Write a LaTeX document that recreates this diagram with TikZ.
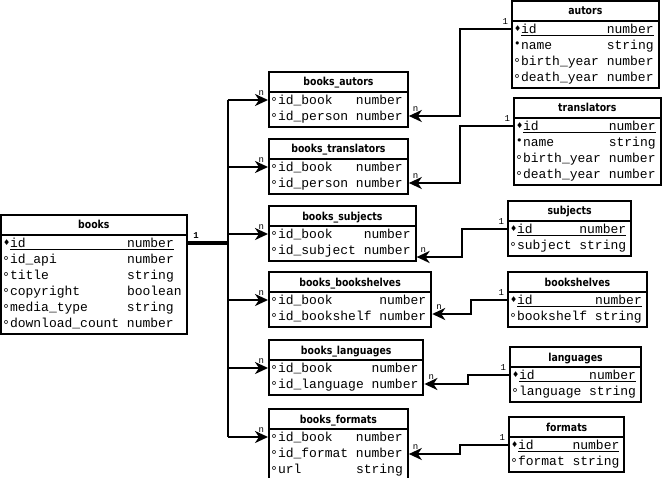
\documentclass[tikz,border=0pt]{standalone}
\usepackage{fontspec}
\setmonofont{Liberation Mono}
\newfontfamily\titlefont[FakeStretch=0.85]{DejaVu Sans}
\newfontfamily\symfont{DejaVu Sans}
\usepackage{tikz}
\usetikzlibrary{arrows.meta}
\usetikzlibrary{positioning}
\usetikzlibrary{shapes.multipart}
\tikzstyle{entity} = [draw, line width=2bp, rectangle split, rectangle split parts=2, inner xsep=2bp, inner ysep=0.5bp, anchor=north west, font=\fontsize{13bp}{16bp}\selectfont\ttfamily]
\tikzstyle{link} = [line width=2.2bp, -{Stealth[length=13bp,width=12bp,inset=4bp]}]
\tikzstyle{mult} = [inner sep=0, font=\fontsize{9bp}{9bp}\selectfont\ttfamily]

\newlength\cw \setlength\cw{7.8bp}
\newcommand\ttl[1]{{\titlefont\bfseries\fontsize{11bp}{13bp}\selectfont\rule[-4.5bp]{0pt}{17bp}#1}}
\newcommand\symkey{\makebox[7bp][l]{\raisebox{2.5bp}{\symfont\fontsize{8bp}{8bp}\selectfont ♦}}}
\newcommand\symreq{\makebox[7bp][l]{\raisebox{2bp}{\symfont\fontsize{11bp}{11bp}\selectfont •}}}
\newcommand\symopt{\makebox[7bp][l]{\raisebox{-2bp}{\symfont\fontsize{12bp}{12bp}\selectfont °}}}
\newcommand\keyrow[3]{\symkey\underline{\makebox[#1\cw][l]{#2}#3}}
\newcommand\reqrow[3]{\symreq\makebox[#1\cw][l]{#2}#3}
\newcommand\optrow[3]{\symopt\makebox[#1\cw][l]{#2}#3}

\begin{document}
\begin{tikzpicture}[x=1bp,y=-1bp]
\useasboundingbox (0,0) rectangle (662,478);

% main table
\node[entity] (books) at (0,214) {\ttl{books}
  \nodepart{two}\begin{tabular}{@{}l@{\hspace{3bp}}}
  \keyrow{15}{id}{number}\\
  \optrow{15}{id\_api}{number}\\
  \optrow{15}{title}{string}\\
  \optrow{15}{copyright}{boolean}\\
  \optrow{15}{media\_type}{string}\\
  \optrow{15}{download\_count}{number}
  \end{tabular}};

% link tables
\node[entity] (bautors) at (268,71) {\ttl{books\_autors}
  \nodepart{two}\begin{tabular}{@{}l@{\hspace{3bp}}}
  \optrow{10}{id\_book}{number}\\
  \optrow{10}{id\_person}{number}
  \end{tabular}};
\node[entity] (btrans) [below=10bp of bautors.south west, anchor=north west] {\ttl{books\_translators}
  \nodepart{two}\begin{tabular}{@{}l@{\hspace{3bp}}}
  \optrow{10}{id\_book}{number}\\
  \optrow{10}{id\_person}{number}
  \end{tabular}};
\node[entity] (bsubj) [below=10bp of btrans.south west, anchor=north west] {\ttl{books\_subjects}
  \nodepart{two}\begin{tabular}{@{}l@{\hspace{3bp}}}
  \optrow{11}{id\_book}{number}\\
  \optrow{11}{id\_subject}{number}
  \end{tabular}};
\node[entity] (bshelf) [below=9bp of bsubj.south west, anchor=north west] {\ttl{books\_bookshelves}
  \nodepart{two}\begin{tabular}{@{}l@{\hspace{3bp}}}
  \optrow{13}{id\_book}{number}\\
  \optrow{13}{id\_bookshelf}{number}
  \end{tabular}};
\node[entity] (blang) [below=11bp of bshelf.south west, anchor=north west] {\ttl{books\_languages}
  \nodepart{two}\begin{tabular}{@{}l@{\hspace{3bp}}}
  \optrow{12}{id\_book}{number}\\
  \optrow{12}{id\_language}{number}
  \end{tabular}};
\node[entity] (bform) [below=12bp of blang.south west, anchor=north west] {\ttl{books\_formats}
  \nodepart{two}\begin{tabular}{@{}l@{\hspace{3bp}}}
  \optrow{10}{id\_book}{number}\\
  \optrow{10}{id\_format}{number}\\
  \optrow{10}{url}{string}
  \end{tabular}};

% lookup tables
\node[entity] (autors) at (511,0) {\ttl{autors}
  \nodepart{two}\begin{tabular}{@{}l@{\hspace{3bp}}}
  \keyrow{11}{id}{number}\\
  \reqrow{11}{name}{string}\\
  \optrow{11}{birth\_year}{number}\\
  \optrow{11}{death\_year}{number}
  \end{tabular}};
\node[entity] (trans) at (513,97) {\ttl{translators}
  \nodepart{two}\begin{tabular}{@{}l@{\hspace{3bp}}}
  \keyrow{11}{id}{number}\\
  \reqrow{11}{name}{string}\\
  \optrow{11}{birth\_year}{number}\\
  \optrow{11}{death\_year}{number}
  \end{tabular}};
\node[entity] (subj) at (507,200) {\ttl{subjects}
  \nodepart{two}\begin{tabular}{@{}l@{\hspace{3bp}}}
  \keyrow{8}{id}{number}\\
  \optrow{8}{subject}{string}
  \end{tabular}};
\node[entity] (shelf) at (507,271) {\ttl{bookshelves}
  \nodepart{two}\begin{tabular}{@{}l@{\hspace{3bp}}}
  \keyrow{10}{id}{number}\\
  \optrow{10}{bookshelf}{string}
  \end{tabular}};
\node[entity] (lang) at (509,346) {\ttl{languages}
  \nodepart{two}\begin{tabular}{@{}l@{\hspace{3bp}}}
  \keyrow{9}{id}{number}\\
  \optrow{9}{language}{string}
  \end{tabular}};
\node[entity] (form) at (508,416) {\ttl{formats}
  \nodepart{two}\begin{tabular}{@{}l@{\hspace{3bp}}}
  \keyrow{7}{id}{number}\\
  \optrow{7}{format}{string}
  \end{tabular}};

% books -> link tables
\draw[line width=3.5bp] ([yshift=-8bp]books.text split east) node[mult, anchor=south west, xshift=4bp, yshift=3bp, font=\fontsize{9bp}{9bp}\selectfont\ttfamily\bfseries]{1} -- ++(40,0) coordinate (hub);
\foreach \t in {bautors,btrans,bsubj,bshelf,blang,bform}{
  \coordinate (\t-in) at ([yshift=-8bp]\t.text split west);
  \draw[link] (hub |- \t-in) -- (\t-in) node[mult, anchor=south east, xshift=-3bp, yshift=3bp]{n};
}
\draw[line width=2.2bp] (hub |- bautors-in) -- (hub |- bform-in);

% lookup tables -> link tables
\draw[link] ([yshift=-8bp]autors.text split west) node[mult, anchor=south east, xshift=-2bp, yshift=3bp]{1} -- ++(-51,0) |- ([yshift=-24bp]bautors.text split east) node[mult, anchor=south west, xshift=3bp, yshift=3bp]{n};
\draw[link] ([yshift=-8bp]trans.text split west) node[mult, anchor=south east, xshift=-2bp, yshift=3bp]{1} -- ++(-53,0) |- ([yshift=-24bp]btrans.text split east) node[mult, anchor=south west, xshift=3bp, yshift=3bp]{n};
\draw[link] ([yshift=-8bp]subj.text split west) node[mult, anchor=south east, xshift=-2bp, yshift=3bp]{1} -- ++(-45,0) |- ([yshift=-31bp]bsubj.text split east) node[mult, anchor=south west, xshift=3bp, yshift=3bp]{n};
\draw[link] ([yshift=-8bp]shelf.text split west) node[mult, anchor=south east, xshift=-2bp, yshift=3bp]{1} -- ++(-36,0) |- ([yshift=-22bp]bshelf.text split east) node[mult, anchor=south west, xshift=3bp, yshift=3bp]{n};
\draw[link] ([yshift=-8bp]lang.text split west) node[mult, anchor=south east, xshift=-2bp, yshift=3bp]{1} -- ++(-41,0) |- ([yshift=-24bp]blang.text split east) node[mult, anchor=south west, xshift=3bp, yshift=3bp]{n};
\draw[link] ([yshift=-8bp]form.text split west) node[mult, anchor=south east, xshift=-2bp, yshift=3bp]{1} -- ++(-48,0) |- ([yshift=-25bp]bform.text split east) node[mult, anchor=south west, xshift=3bp, yshift=3bp]{n};
\end{tikzpicture}
\end{document}
